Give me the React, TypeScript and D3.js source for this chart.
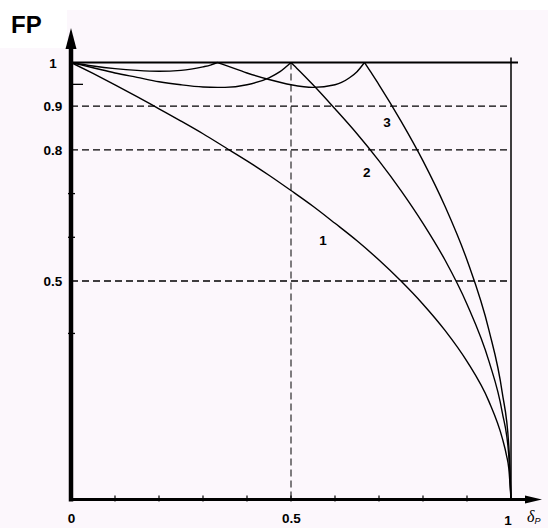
import React from 'react';
import * as d3 from 'd3';

// curve 1 : two levels (1, 0)
const delta1 = [0, 0.05, 0.1, 0.15, 0.2, 0.25, 0.3, 0.35, 0.4, 0.45, 0.5, 0.55, 0.6, 0.65, 0.7, 0.75, 0.8, 0.85, 0.9, 0.95, 0.98, 0.99, 0.995, 1];
const fp1 = [1, 0.975, 0.949, 0.922, 0.894, 0.866, 0.837, 0.806, 0.775, 0.742, 0.707, 0.671, 0.632, 0.592, 0.548, 0.5, 0.447, 0.387, 0.316, 0.224, 0.141, 0.1, 0.071, 0];

// curve 2 : three levels, two arcs
const delta2a = [0, 0.05, 0.1, 0.15, 0.2, 0.25, 0.3, 0.333, 0.35, 0.4, 0.45, 0.475, 0.5];
const fp2a = [1, 0.988, 0.976, 0.966, 0.956, 0.949, 0.944, 0.943, 0.943, 0.949, 0.965, 0.979, 1];
const delta2b = [0.5, 0.51, 0.52, 0.55, 0.6, 0.65, 0.7, 0.75, 0.8, 0.85, 0.9, 0.95, 0.98, 0.995, 1];
const fp2b = [1, 0.99, 0.98, 0.949, 0.894, 0.837, 0.775, 0.707, 0.632, 0.548, 0.447, 0.316, 0.2, 0.1, 0];

// curve 3 : four levels, three arcs
const delta3a = [0, 0.05, 0.1, 0.15, 0.2, 0.25, 0.3, 0.317, 0.333];
const fp3a = [1, 0.992, 0.986, 0.982, 0.98, 0.982, 0.99, 0.994, 1];
const delta3b = [0.333, 0.35, 0.4, 0.45, 0.5, 0.55, 0.6, 0.633, 0.65, 0.667];
const fp3b = [1, 0.994, 0.976, 0.961, 0.949, 0.943, 0.949, 0.965, 0.979, 1];
const delta3c = [0.667, 0.68, 0.7, 0.75, 0.8, 0.85, 0.9, 0.95, 0.98, 0.995, 1];
const fp3c = [1, 0.98, 0.949, 0.866, 0.775, 0.671, 0.548, 0.387, 0.245, 0.123, 0];

const xTickValues = [0.1, 0.2, 0.3, 0.4, 0.5, 0.6, 0.7, 0.8, 0.9];
const xTickLabels = ['0', '0.5', '1'];
const yTickLabels = ['1', '0.9', '0.8', '0.5'];
const yMinorTicks = [0.7, 0.6, 0.38];
const dashedLevels = [0.9, 0.8, 0.5];

const curveLabels = ['1', '2', '3'];
const curveLabelPos = [[0.573, 0.594], [0.672, 0.749], [0.718, 0.864]];

const W = 548;
const H = 528;

const App = () => {
  const x = d3.scaleLinear().domain([0, 1]).range([71, 511]);
  const y = d3.scaleLinear().domain([0, 1]).range([499.5, 62.5]);

  const line = d3
    .line<[number, number]>()
    .x((d) => x(d[0]))
    .y((d) => y(d[1]))
    .curve(d3.curveMonotoneX);

  const zip = (a: number[], b: number[]) => a.map((v, i) => [v, b[i]] as [number, number]);
  const segments = [
    zip(delta1, fp1),
    zip(delta2a, fp2a),
    zip(delta2b, fp2b),
    zip(delta3a, fp3a),
    zip(delta3b, fp3b),
    zip(delta3c, fp3c),
  ];

  const labelFont = 'Liberation Sans, Arial, sans-serif';
  const x0 = x(0);
  const y0 = y(0);

  return (
    <svg width={W} height={H} style={{ position: 'absolute', left: 0, top: 0 }}>
      <rect x={0} y={0} width={W} height={H} fill="#fcf7fc" />
      <rect x={0} y={0} width={W} height={10} fill="#ffffff" />
      <rect x={0} y={0} width={67} height={48} fill="#ffffff" />

      {/* dashed reference lines */}
      {dashedLevels.map((v) => (
        <line key={v} x1={x0} x2={x(1)} y1={y(v)} y2={y(v)} stroke="#000" strokeWidth={1.3} strokeDasharray="7,4" />
      ))}
      <line x1={x(0.5)} x2={x(0.5)} y1={y(1)} y2={y0} stroke="#000" strokeWidth={1} strokeDasharray="7,4" />

      {/* top line at FP = 1 and right border at delta = 1 */}
      <line x1={x0} x2={x(1) + 7} y1={y(1)} y2={y(1)} stroke="#000" strokeWidth={1.8} />
      <line x1={x(1)} x2={x(1)} y1={y(1) - 5} y2={y0} stroke="#000" strokeWidth={1.5} />

      {/* curves */}
      {segments.map((s, i) => (
        <path key={i} d={line(s) || ''} fill="none" stroke="#000" strokeWidth={1.4} />
      ))}

      {/* axes */}
      <line x1={x0} x2={x0} y1={y0 + 2} y2={42} stroke="#000" strokeWidth={4.5} />
      <path d={`M${x0},28 L${x0 - 5.5},49 L${x0 + 5.5},49 Z`} fill="#000" />
      <line x1={x0 - 2} x2={528} y1={y0} y2={y0} stroke="#000" strokeWidth={3} />
      <path d={`M542,${y0} L525,${y0 - 4} L525,${y0 + 4} Z`} fill="#000" />

      {xTickValues.map((v) => (
        <line key={v} x1={x(v)} x2={x(v)} y1={y0 - 4} y2={y0 + 2} stroke="#000" strokeWidth={1.2} />
      ))}
      <line x1={x0} x2={x0 + 12} y1={y(0.95)} y2={y(0.95)} stroke="#000" strokeWidth={1.3} />
      {yMinorTicks.map((v) => (
        <line key={v} x1={x0 - 3} x2={x0 + 4} y1={y(v)} y2={y(v)} stroke="#000" strokeWidth={1.3} />
      ))}

      {/* tick labels */}
      {yTickLabels.map((t) => (
        <text key={t} x={53} y={y(+t) + 5} textAnchor="middle" fontFamily={labelFont} fontWeight="bold" fontSize={13.5}>
          {t}
        </text>
      ))}
      {xTickLabels.map((t) => (
        <text key={t} x={t === '1' ? x(+t) - 3 : x(+t) + 0.5} y={t === '1' ? 525 : 523} textAnchor="middle" fontFamily={labelFont} fontWeight="bold" fontSize={13.5}>
          {t}
        </text>
      ))}

      {curveLabels.map((t, i) => (
        <text key={t} x={x(curveLabelPos[i][0])} y={y(curveLabelPos[i][1]) + 5} textAnchor="middle" fontFamily={labelFont} fontWeight="bold" fontSize={13.5}>
          {t}
        </text>
      ))}

      {/* axis titles */}
      <text x={11} y={33} fontFamily={labelFont} fontWeight="bold" fontSize={24}>
        FP
      </text>
      <text x={527} y={522} fontFamily="Liberation Serif, serif" fontStyle="italic" fontSize={16}>
        δ
        <tspan fontFamily={labelFont} fontSize={9} dy={2}>P</tspan>
      </text>
    </svg>
  );
};

export default App;
